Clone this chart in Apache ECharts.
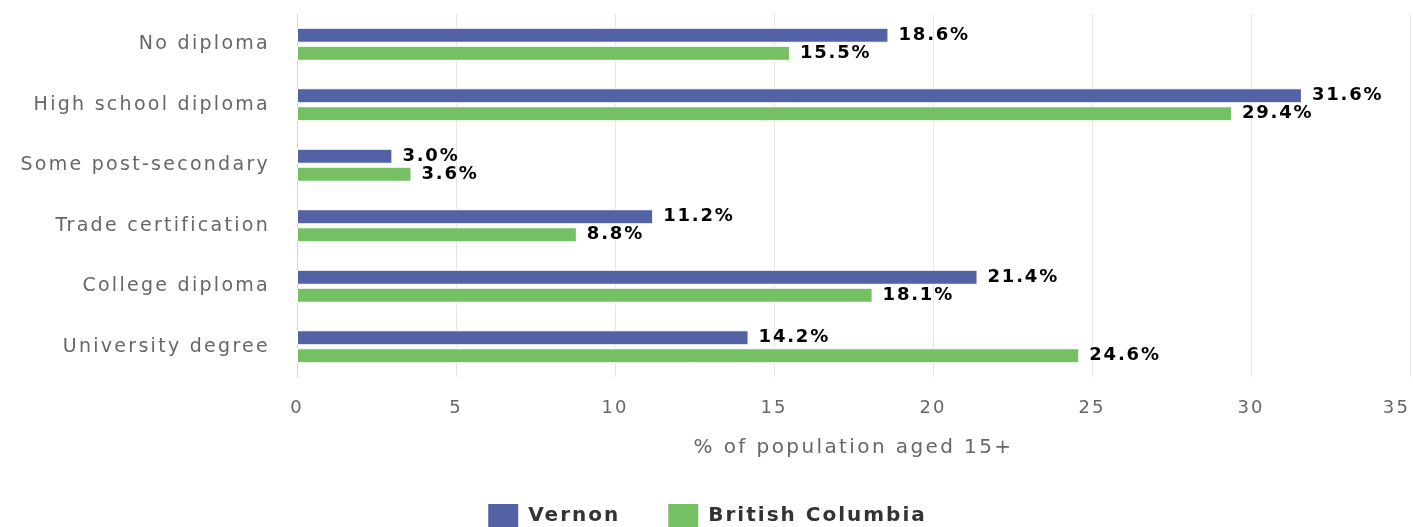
<!DOCTYPE html>
<html>
<head>
<meta charset="utf-8">
<title>Education attainment</title>
<script src="https://cdn.jsdelivr.net/npm/echarts@6/dist/echarts.min.js"></script>
<style>
    html, body { margin: 0; padding: 0; background: #fff; }
    #main { width: 1413px; height: 527px; }
</style>
</head>
<body>
<div id="main"></div>
<script>
    // categories, top to bottom
    var categories = ['No diploma', 'High school diploma', 'Some post-secondary',
        'Trade certification', 'College diploma', 'University degree'];
    var vernonValues = [18.6, 31.6, 3.0, 11.2, 21.4, 14.2];
    var bcValues = [15.5, 29.4, 3.6, 8.8, 18.1, 24.6];
    var seriesNames = ['Vernon', 'British Columbia'];
    var seriesColors = ['#5262a5', '#74c062'];

    /**
     * spaced-out lettering like the original: canvas letterSpacing,
     * applied to both drawing and measuring so the layout stays right
     * */
    (function () {
        var proto = CanvasRenderingContext2D.prototype;
        if (!('letterSpacing' in proto)) return;
        function spacing(ctx) {
            var f = ctx.font || '';
            var m = f.match(/(\d+(?:\.\d+)?)px/);
            var size = m ? parseFloat(m[1]) : 12;
            var bold = /bold|[6-9]00/.test(f);
            ctx.letterSpacing = (size * (bold ? 0.1 : 0.12)).toFixed(2) + 'px';
        }
        var origFill = proto.fillText;
        var origMeasure = proto.measureText;
        proto.fillText = function () {
            spacing(this);
            return origFill.apply(this, arguments);
        };
        proto.measureText = function () {
            spacing(this);
            return origMeasure.apply(this, arguments);
        };
    })();

    var font = 'DejaVu Sans';
    var myChart = echarts.init(document.getElementById('main'));

    var option = {
        animation: false,
        textStyle: { fontFamily: font },
        legend: {
            data: seriesNames,
            top: 502,
            left: 'center',
            padding: 0,
            itemWidth: 32,
            itemHeight: 25,
            itemGap: 46,
            icon: 'rect',
            textStyle: {
                color: '#333',
                fontSize: 20,
                fontWeight: 'bold',
                fontFamily: font,
                padding: [0, 0, 0, 4]
            }
        },
        grid: {
            left: 297,
            right: 3,
            top: 14,
            bottom: 150
        },
        xAxis: {
            type: 'value',
            min: 0,
            max: 35,
            interval: 5,
            name: '% of population aged 15+',
            nameLocation: 'middle',
            nameGap: 60,
            nameTextStyle: { color: '#666', fontSize: 20, fontFamily: font },
            axisLine: { show: false },
            axisTick: { show: false },
            axisLabel: {
                color: '#666',
                fontSize: 18,
                margin: 21,
                alignMaxLabel: 'right'
            },
            splitLine: { lineStyle: { color: '#e6e6e6', width: 1 } }
        },
        yAxis: {
            type: 'category',
            data: categories,
            inverse: true,
            axisLine: { lineStyle: { color: '#ccd6eb', width: 1 } },
            axisTick: { length: 19, lineStyle: { color: '#ccd6eb', width: 1 } },
            axisLabel: {
                color: '#666',
                fontSize: 19,
                margin: 27
            }
        },
        series: function () {
            var serie = [];
            var values = [vernonValues, bcValues];
            for (var i = 0; i < seriesNames.length; i++) {
                serie.push({
                    name: seriesNames[i],
                    type: 'bar',
                    data: values[i],
                    barWidth: 15,
                    barGap: '20%',
                    itemStyle: {
                        color: seriesColors[i],
                        borderColor: '#fff',
                        borderWidth: 1
                    },
                    label: {
                        show: true,
                        position: 'right',
                        distance: 10,
                        color: '#000',
                        fontSize: 18,
                        fontWeight: 'bold',
                        fontFamily: font,
                        formatter: function (p) {
                            return p.value.toFixed(1) + '%';
                        }
                    }
                });
            }
            return serie;
        }()
    };

    myChart.setOption(option);
</script>
</body>
</html>
